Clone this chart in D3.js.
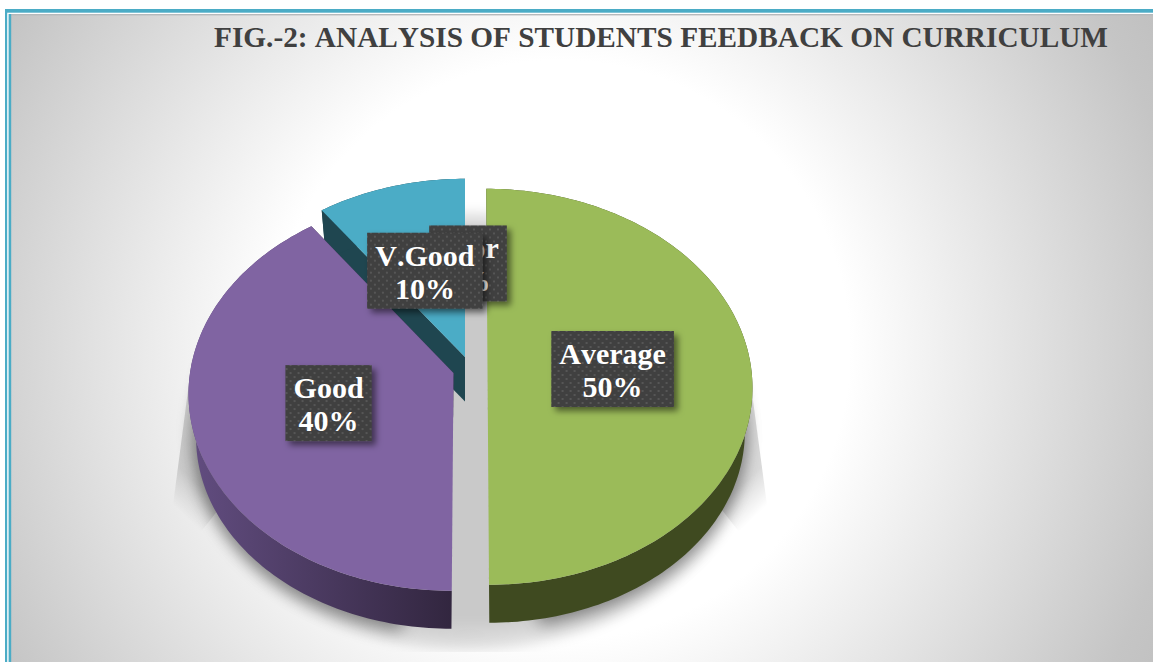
<!DOCTYPE html>
<html><head><meta charset="utf-8">
<script src="https://cdn.jsdelivr.net/npm/d3@7/dist/d3.min.js"></script>
<style>html,body{margin:0;padding:0;background:#fff;overflow:hidden}svg{display:block}text{font-kerning:none}</style>
</head><body><svg id="c" width="1153" height="662"></svg>
<script>
const titleText = "FIG.-2: ANALYSIS OF STUDENTS FEEDBACK ON CURRICULUM";
const categories = ["Average","Good","V.Good","Poor"];
const values = [50,40,10,0];
const topColors = ["#9bbb59","#8064a2","#4bacc6","#f79646"];
const sideColors = ["#3f4a20","url(#purpleSide)","#1f4650","#7a4a20"];
const faceColors = ["#3f4a20","#32263f","#1f4650","#7a4a20"];
const apexX = [487.5,453.5,465,468];
const apexY = [367,373,357,355];
const lean = [0.007,-0.008,0,0];
const labelNudgeX = [-4,0,-2,0];
const labelNudgeY = [2,0,1,0];

const W=1153,H=662, Sx=263.5, Sy=196, K=0.1, DEPTH=38, BOTTOM_SCALE=0.97;
const svg=d3.select("#c");
const defs=svg.append("defs");

const bg=defs.append("radialGradient").attr("id","bg").attr("gradientUnits","userSpaceOnUse")
  .attr("cx",560).attr("cy",350).attr("r",690);
[[0,"#ffffff"],[0.42,"#ffffff"],[0.62,"#e8e8e8"],[0.92,"#c5c5c5"],[1,"#c0c0c0"]].forEach(s=>bg.append("stop").attr("offset",s[0]).attr("stop-color",s[1]));

const ps=defs.append("linearGradient").attr("id","purpleSide").attr("gradientUnits","userSpaceOnUse")
  .attr("x1",195).attr("x2",453).attr("y1",0).attr("y2",0);
ps.append("stop").attr("offset",0).attr("stop-color","#614c7f");
ps.append("stop").attr("offset",1).attr("stop-color","#32263f");

const sh=defs.append("radialGradient").attr("id","shadowFill").attr("cx",0.5).attr("cy",0.5).attr("r",0.5);
[[0,0.21],[0.85,0.21],[0.95,0.13],[1,0.03]].forEach(s=>sh.append("stop").attr("offset",s[0]).attr("stop-color","#000").attr("stop-opacity",s[1]));

function wedgeGrad(id,x1,y1,x2,y2){
  const lg=defs.append("linearGradient").attr("id",id).attr("gradientUnits","userSpaceOnUse")
    .attr("x1",x1).attr("y1",y1).attr("x2",x2).attr("y2",y2);
  lg.append("stop").attr("offset",0).attr("stop-color","#000").attr("stop-opacity",0);
  lg.append("stop").attr("offset",1).attr("stop-color","#000").attr("stop-opacity",0.15);
}
wedgeGrad("wedgeL",173,505,195,482);
wedgeGrad("wedgeR",767,505,745,482);

const blur=defs.append("filter").attr("id","soft").attr("x","-10%").attr("y","-10%").attr("width","120%").attr("height","120%");
blur.append("feGaussianBlur").attr("stdDeviation",4);
const blur2=defs.append("filter").attr("id","soft2").attr("x","-15%").attr("y","-15%").attr("width","130%").attr("height","130%");
blur2.append("feGaussianBlur").attr("stdDeviation",8);

const ds=defs.append("filter").attr("id","boxShadow").attr("x","-20%").attr("y","-20%").attr("width","150%").attr("height","150%");
ds.append("feDropShadow").attr("dx",4).attr("dy",4).attr("stdDeviation",3).attr("flood-color","#000").attr("flood-opacity",0.5);

const pat=defs.append("pattern").attr("id","dots").attr("patternUnits","userSpaceOnUse").attr("width",8).attr("height",8);
pat.append("rect").attr("width",8).attr("height",8).attr("fill","#3f3f3f");
[[2,2],[6,6]].forEach(p=>pat.append("rect").attr("x",p[0]-1).attr("y",p[1]-1).attr("width",2).attr("height",2).attr("fill","#575757"));

defs.append("clipPath").attr("id","floor").append("rect").attr("x",0).attr("y",0).attr("width",W).attr("height",652);

// background and frame
svg.append("rect").attr("x",11).attr("y",14).attr("width",W-11).attr("height",H-14).attr("fill","url(#bg)");
svg.append("rect").attr("x",11).attr("y",14).attr("width",W-11).attr("height",1.4).attr("fill","#b5b9bb");
svg.append("rect").attr("x",5).attr("y",9).attr("width",W-5).attr("height",3.7).attr("fill","#4bacc6");
svg.append("rect").attr("x",5).attr("y",9).attr("width",2.2).attr("height",H-9).attr("fill","#4bacc6");
svg.append("rect").attr("x",8.6).attr("y",14).attr("width",2.6).attr("height",H-14).attr("fill","#4bacc6");

// projection of the pie disc
function pt(i,a,f,z){
  const u=Math.sin(a)*f, v=Math.cos(a)*f, w=1+K*v;
  const s=z>0?BOTTOM_SCALE:1;
  const extra=z>0?z+218*(1-BOTTOM_SCALE):0;
  const y0=apexY[i]-s*Sy*v/w;
  const y=y0+extra;
  const x=apexX[i]+s*Sx*u/w+lean[i]*(y-apexY[i]);
  return [x,y];
}
function samples(a0,a1){
  const n=Math.max(2,Math.ceil(Math.abs(a1-a0)/0.02));
  return d3.range(n+1).map(k=>a0+(a1-a0)*k/n);
}
const line=d3.line();
const arcs=d3.pie().sort(null).value(d=>d)(values);

// floor shadow: soft disc, two side wedges, and a band hugging the outer walls
const floor=svg.append("g").attr("clip-path","url(#floor)");
floor.append("ellipse").attr("cx",469).attr("cy",431).attr("rx",286).attr("ry",222)
  .attr("fill","url(#shadowFill)").attr("filter","url(#soft)");
floor.append("path").attr("d",line([[192,360],[173,505],[200,533],[222,505],[222,360]])+"Z").attr("fill","url(#wedgeL)");
floor.append("path").attr("d",line([[752,393],[767,505],[740,533],[718,505],[718,393]])+"Z").attr("fill","url(#wedgeR)");
[0,1].forEach(i=>{
  const a=arcs[i], ang=samples(a.startAngle,a.endAngle).filter(t=>Math.abs(Math.cos(t))<0.985 && Math.cos(t)<0.3);
  const outer=ang.map(t=>pt(i,t,1,DEPTH+6)), inner=ang.map(t=>pt(i,t,0.9,DEPTH)).reverse();
  floor.append("path").attr("d",line(outer.concat(inner))+"Z")
    .attr("fill","#000").attr("fill-opacity",0.38).attr("filter","url(#soft2)");
});

// slices
const order=[2,1,0];
const g=svg.append("g");
order.forEach(i=>{
  const a=arcs[i], ang=samples(a.startAngle,a.endAngle);
  const top=ang.map(t=>pt(i,t,1,0)), bot=ang.map(t=>pt(i,t,1,DEPTH));
  const c0=pt(i,0,0,0), c1=pt(i,0,0,DEPTH);
  [a.startAngle,a.endAngle].forEach(t=>{
    const e0=pt(i,t,1,0), e1=pt(i,t,1,DEPTH);
    g.append("path").attr("d",line([c0,e0,e1,c1])+"Z").attr("fill",faceColors[i]);
  });
  g.append("path").attr("d",line(top.concat(bot.slice().reverse()))+"Z").attr("fill",sideColors[i]);
  g.append("path").attr("d",line([c0].concat(top))+"Z").attr("fill",topColors[i]);
});

// title
svg.append("text").attr("x",214).attr("y",47).text(titleText)
  .attr("font-family","'Liberation Serif',serif").attr("font-weight","bold").attr("font-size",30)
  .attr("fill","#404040").attr("textLength",894).attr("lengthAdjust","spacingAndGlyphs");

// labels
const labelOrder=[3,2,1,0];
labelOrder.forEach(i=>{
  const a=arcs[i], mid=(a.startAngle+a.endAngle)/2;
  const c=pt(i,mid,0.49,0);
  const lg=svg.append("g").attr("transform",`translate(${c[0]+labelNudgeX[i]},${c[1]+labelNudgeY[i]})`);
  const box=lg.append("rect").attr("fill","url(#dots)").attr("filter","url(#boxShadow)");
  const t=lg.append("text").attr("text-anchor","middle").attr("fill","#fff")
    .attr("font-family","'Liberation Serif',serif").attr("font-weight","bold").attr("font-size",30);
  t.append("tspan").attr("x",0).attr("y",-5).text(categories[i]);
  t.append("tspan").attr("x",0).attr("y",28).text(values[i]+"%");
  const w=t.node().getBBox().width+16;
  box.attr("x",-w/2).attr("y",-38).attr("width",w).attr("height",76);
});
</script></body></html>
